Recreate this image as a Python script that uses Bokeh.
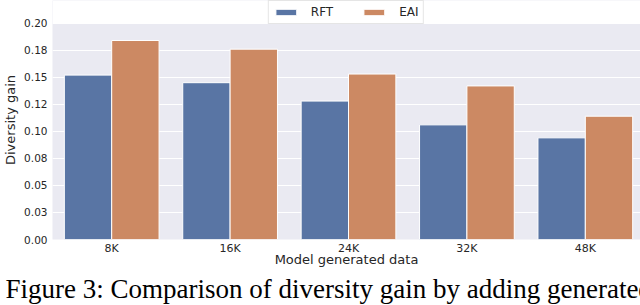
from bokeh.plotting import figure
from bokeh.models import (ColumnDataSource, Range1d, FixedTicker, Legend,
                          LegendItem, Title, BoxAnnotation)
from bokeh.embed import file_html
from bokeh.resources import INLINE

# ---- data ----
categories = ["8K", "16K", "24K", "32K", "48K"]
rft = [0.152, 0.145, 0.128, 0.106, 0.094]
eai = [0.184, 0.176, 0.153, 0.142, 0.114]
y_ticks = [0.0, 0.025, 0.05, 0.075, 0.1, 0.125, 0.15, 0.175, 0.2]
y_tick_labels = ["0.00", "0.03", "0.05", "0.08", "0.10", "0.12", "0.15", "0.18", "0.20"]
series_names = ["RFT", "EAI"]
x_title = "Model generated data"
y_title = "Diversity gain"
caption = "Figure 3: Comparison of diversity gain by adding generated"

BLUE = "#5975A4"
ORANGE = "#CC8963"
FONT = "DejaVu Sans"
BAR_W = 0.4
Y_MAX = 0.2          # top of the shaded axes area
Y_VIEW = 0.221       # extra headroom (white) that holds the legend

centers = [i + 0.5 for i in range(len(categories))]
source = ColumnDataSource(data=dict(
    cat=categories,
    x_rft=[c - BAR_W / 2 for c in centers],
    x_eai=[c + BAR_W / 2 for c in centers],
    rft=rft, eai=eai))

W, H = 640, 305
p = figure(width=W, height=H, output_backend="svg", toolbar_location=None,
           x_range=Range1d(0, 4.966), y_range=Range1d(0, Y_VIEW),
           min_border_left=49, min_border_right=0, min_border_top=0,
           min_border_bottom=63)

p.background_fill_color = "#EAEAF2"
p.border_fill_color = "white"
p.outline_line_color = None

# white strip above the axes area (where the legend sits)
p.add_layout(BoxAnnotation(bottom=Y_MAX, fill_color="white", fill_alpha=1.0,
                           line_color=None, level="underlay"))

r1 = p.vbar(x="x_rft", top="rft", width=BAR_W, source=source,
            fill_color=BLUE, line_color="white", line_width=1)
r2 = p.vbar(x="x_eai", top="eai", width=BAR_W, source=source,
            fill_color=ORANGE, line_color="white", line_width=1)

# axes
for ax in (p.xaxis[0], p.yaxis[0]):
    ax.axis_line_color = None
    ax.major_tick_line_color = None
    ax.minor_tick_line_color = None
    ax.major_tick_out = 0
    ax.major_tick_in = 0
    ax.major_label_text_font = FONT
    ax.major_label_text_color = "#262626"
    ax.axis_label_text_font = FONT
    ax.axis_label_text_font_style = "normal"
    ax.axis_label_text_color = "#262626"
    ax.axis_label_text_font_size = "13px"

p.yaxis.ticker = FixedTicker(ticks=y_ticks)
p.yaxis.major_label_overrides = {t: s for t, s in zip(y_ticks, y_tick_labels)}
p.yaxis.major_label_text_font_size = "10.5px"
p.yaxis.major_label_standoff = 5
p.yaxis.axis_label = y_title
p.yaxis.axis_label_standoff = 3

p.xaxis.ticker = FixedTicker(ticks=centers)
p.xaxis.major_label_overrides = {c: s for c, s in zip(centers, categories)}
p.xaxis.major_label_text_font_size = "11px"
p.xaxis.major_label_standoff = 2
p.xaxis.axis_label = x_title
p.xaxis.axis_label_standoff = -6

p.xgrid.grid_line_color = None
p.ygrid.grid_line_color = "white"
p.ygrid.grid_line_width = 1

# caption below the x axis, as a title in the bottom panel
p.add_layout(Title(text=caption, align="left", offset=-47, standoff=4,
                   text_font="Liberation Serif", text_font_size="27px",
                   text_font_style="normal", text_color="black"), "below")

legend = Legend(items=[LegendItem(label=series_names[0], renderers=[r1]),
                       LegendItem(label=series_names[1], renderers=[r2])],
                orientation="horizontal", location="top_center",
                glyph_width=26, glyph_height=8, label_standoff=12, spacing=28,
                padding=4, margin=0, label_height=12,
                label_text_font=FONT, label_text_font_size="12px",
                label_text_color="#262626",
                background_fill_color="white", background_fill_alpha=1.0,
                border_line_color="#CCCCCC", border_line_width=1)
p.add_layout(legend)

open("out.html", "w").write(file_html(p, INLINE))
